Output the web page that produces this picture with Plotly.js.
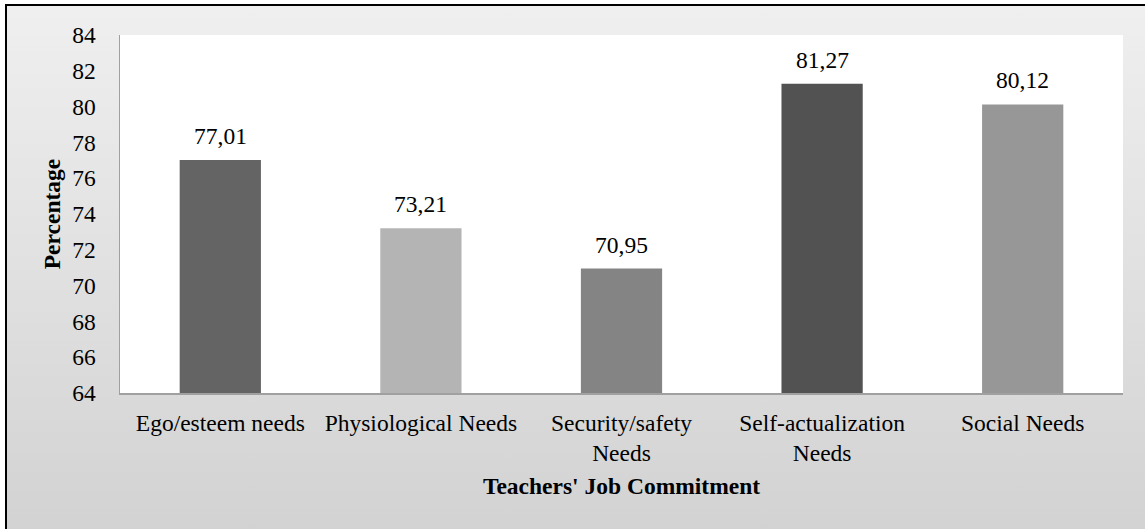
<!DOCTYPE html>
<html>
<head>
<meta charset="utf-8">
<script src="https://cdn.plot.ly/plotly-3.0.1.min.js"></script>
<style>
  html, body { margin: 0; padding: 0; background: #ffffff; width: 1145px; height: 529px; overflow: hidden; }
  #bg { position: absolute; left: 5px; top: 4px; width: 1145px; height: 530px;
        border-left: 2px solid #000; border-top: 2px solid #000;
        background: linear-gradient(to bottom, #efefef 0%, #d2d2d2 100%); }
  #chart { position: absolute; left: 0; top: 0; width: 1145px; height: 529px; }
</style>
</head>
<body>
<div id="bg"></div>
<div id="chart"></div>
<script>
const categories = ["Ego/esteem needs", "Physiological Needs", "Security/safety<br>Needs", "Self-actualization<br>Needs", "Social Needs"];
const values = [77.01, 73.21, 70.95, 81.27, 80.12];
const valueLabels = ["77,01", "73,21", "70,95", "81,27", "80,12"];
const barColors = ["#646464", "#b4b4b4", "#848484", "#525252", "#979797"];
const yTicks = [64, 66, 68, 70, 72, 74, 76, 78, 80, 82, 84];

const font = "Liberation Serif, Times New Roman, serif";
const fs = 23.5;

const trace = {
  type: "bar",
  x: categories,
  y: values,
  marker: { color: barColors, line: { width: 0 } },
  hoverinfo: "none"
};

const annotations = categories.map((c, i) => ({
  x: c, y: values[i], xref: "x", yref: "y",
  text: valueLabels[i], showarrow: false,
  yanchor: "bottom", yshift: 9,
  font: { family: font, size: fs, color: "#000" }
}));

const layout = {
  width: 1145, height: 529,
  margin: { l: 120, r: 22, t: 35, b: 136 },
  paper_bgcolor: "rgba(0,0,0,0)",
  plot_bgcolor: "#ffffff",
  bargap: 0.595,
  showlegend: false,
  font: { family: font, size: fs, color: "#000" },
  xaxis: {
    type: "category",
    tickvals: categories,
    ticktext: categories,
    showline: true, linecolor: "#a0a0a0", linewidth: 1.5,
    showgrid: false, zeroline: false,
    ticks: "", ticklabelstandoff: 8,
    tickfont: { family: font, size: fs, color: "#000" },
    title: { text: "<b>Teachers' Job Commitment</b>", standoff: 12,
             font: { family: font, size: fs, color: "#000" } },
    fixedrange: true
  },
  yaxis: {
    range: [64, 84],
    tickvals: yTicks,
    ticktext: yTicks.map(String),
    showline: true, linecolor: "#a0a0a0", linewidth: 1.5,
    showgrid: false, zeroline: false,
    ticks: "", ticklabelstandoff: 18,
    tickfont: { family: font, size: fs, color: "#000" },
    title: { text: "<b>Percentage</b>", standoff: 5,
             font: { family: font, size: fs, color: "#000" } },
    fixedrange: true
  },
  annotations: annotations
};

Plotly.newPlot("chart", [trace], layout, { displayModeBar: false, staticPlot: true });
</script>
</body>
</html>
